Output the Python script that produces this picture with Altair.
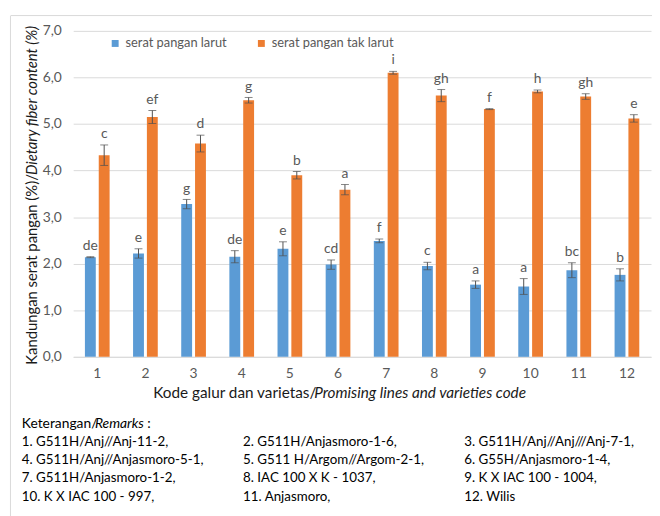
import altair as alt
import pandas as pd

codes = [str(i) for i in range(1, 13)]
series_names = ["serat pangan larut", "serat pangan tak larut"]

larut = [2.14, 2.22, 3.28, 2.15, 2.32, 1.98, 2.49, 1.95, 1.55, 1.51, 1.86, 1.76]
larut_err = [0.01, 0.10, 0.10, 0.13, 0.15, 0.10, 0.04, 0.08, 0.08, 0.17, 0.16, 0.13]
larut_lbl = ["de", "e", "g", "de", "e", "cd", "f", "c", "a", "a", "bc", "b"]

tak_larut = [4.33, 5.15, 4.58, 5.51, 3.90, 3.59, 6.10, 5.61, 5.32, 5.70, 5.59, 5.12]
tak_err = [0.22, 0.14, 0.18, 0.06, 0.08, 0.11, 0.03, 0.13, 0.01, 0.03, 0.06, 0.08]
tak_lbl = ["c", "ef", "d", "g", "b", "a", "i", "gh", "f", "h", "gh", "e"]

remarks_col1 = ["1. G511H/Anj//Anj-11-2,", "4. G511H/Anj//Anjasmoro-5-1,",
                "7. G511H/Anjasmoro-1-2,", "10. K X IAC 100 - 997,"]
remarks_col2 = ["2. G511H/Anjasmoro-1-6,", "5. G511 H/Argom//Argom-2-1,",
                "8. IAC 100 X K - 1037,", "11. Anjasmoro,"]
remarks_col3 = ["3. G511H/Anj//Anj///Anj-7-1,", "6. G55H/Anjasmoro-1-4,",
                "9. K X IAC 100 - 1004,", "12. Wilis"]

rows = []
for i, c in enumerate(codes):
    rows.append(dict(code=c, seri=series_names[0], val=larut[i], err=larut_err[i], lbl=larut_lbl[i]))
    rows.append(dict(code=c, seri=series_names[1], val=tak_larut[i], err=tak_err[i], lbl=tak_lbl[i]))
df = pd.DataFrame(rows)
df["lo"] = df["val"] - df["err"]
df["hi"] = df["val"] + df["err"]

FONT = "Lato"
GRAY = "#595959"
DARK = "#1a1a1a"
W, H = 585, 330

x = alt.X("code:N", sort=codes,
          scale=alt.Scale(paddingInner=0.487, paddingOuter=0.2435),
          axis=alt.Axis(title=None, labelAngle=0, ticks=False, domainColor="#D9D9D9",
                        labelColor=GRAY, labelFontSize=14, labelPadding=10, labelFont=FONT))
xo = alt.XOffset("seri:N", sort=series_names,
                 scale=alt.Scale(paddingInner=0.214, paddingOuter=0))
color = alt.Color("seri:N", sort=series_names,
                  scale=alt.Scale(domain=series_names, range=["#5B9BD5", "#ED7D31"]),
                  legend=alt.Legend(orient="none", legendX=36, legendY=6, direction="horizontal",
                                    title=None, symbolType="square", symbolSize=49,
                                    symbolStrokeWidth=0, labelFontSize=13, labelColor=GRAY,
                                    labelFont=FONT, columnPadding=28, labelOffset=4))
y = alt.Y("val:Q", scale=alt.Scale(domain=[0, 7], nice=False),
          axis=alt.Axis(title=None, values=list(range(8)),
                        labelExpr="replace(format(datum.value, '.1f'), '.', ',')",
                        ticks=False, domain=False, gridColor="#D9D9D9", labelColor=GRAY,
                        labelFontSize=14, labelFont=FONT, labelPadding=12))

base = alt.Chart(df)
bars = base.mark_bar().encode(x=x, xOffset=xo, y=y, color=color)
whisk = base.mark_rule(color="#505050", strokeWidth=1).encode(
    x=x, xOffset=xo, y=alt.Y("lo:Q", title=None), y2="hi:Q")
cap_hi = base.mark_tick(color="#505050", size=8, thickness=1).encode(
    x=x, xOffset=xo, y=alt.Y("hi:Q", title=None))
cap_lo = base.mark_tick(color="#505050", size=8, thickness=1).encode(
    x=x, xOffset=xo, y=alt.Y("lo:Q", title=None))
letters = base.mark_text(color=GRAY, fontSize=14, font=FONT, dy=-7, baseline="alphabetic").encode(
    x=x, xOffset=xo, y=alt.Y("hi:Q", title=None), text="lbl:N")

one = pd.DataFrame({"a": [0]})


def txt(s, px, py, italic=False, angle=0, size=15.5, col=DARK, baseline="middle"):
    kw = dict(font=FONT, fontSize=size, color=col, align="left", baseline=baseline)
    if italic:
        kw["fontStyle"] = "italic"
    if angle:
        kw["angle"] = angle
    return alt.Chart(one).mark_text(**kw).encode(
        x=alt.value(px), y=alt.value(py), text=alt.value(s))


def multi(lines, px, py):
    return alt.Chart(one).mark_text(font=FONT, fontSize=13.5, color="#000000", align="left",
                                    baseline="top", lineBreak="\n", lineHeight=18.5).encode(
        x=alt.value(px), y=alt.value(py), text=alt.value("\n".join(lines)))


border_h = alt.Chart(one).mark_rule(color="#D9D9D9").encode(
    x=alt.value(-63), x2=alt.value(W + 2), y=alt.value(-15.5))
border_v = alt.Chart(one).mark_rule(color="#D9D9D9").encode(
    x=alt.value(-63.5), y=alt.value(-15.5), y2=alt.value(510))

layers = [
    border_h, border_v, bars, whisk, cap_hi, cap_lo, letters,
    txt("Kode galur dan varietas/", 81, 367),
    txt("Promising lines and varieties code", 244, 367, italic=True),
    txt("Kandungan serat pangan (%)/", -42, 338, angle=270, size=15),
    txt("Dietary fiber content (%)", -42, 146, italic=True, angle=270, size=15),
    txt("Keterangan/", -52, 398, size=14, col="#000000"),
    txt("Remarks", 22, 398, italic=True, size=14, col="#000000"),
    txt(" :", 75, 398, size=14, col="#000000"),
    multi(remarks_col1, -52, 409),
    multi(remarks_col2, 172, 409),
    multi(remarks_col3, 396, 409),
]

chart = alt.layer(*layers).properties(
    width=W, height=H,
    autosize=alt.AutoSizeParams(type="none"),
    padding={"left": 66, "top": 20, "right": 1, "bottom": 158},
).configure_view(stroke=None)

chart.save("out.html", embed_options={"renderer": "svg", "actions": False})
